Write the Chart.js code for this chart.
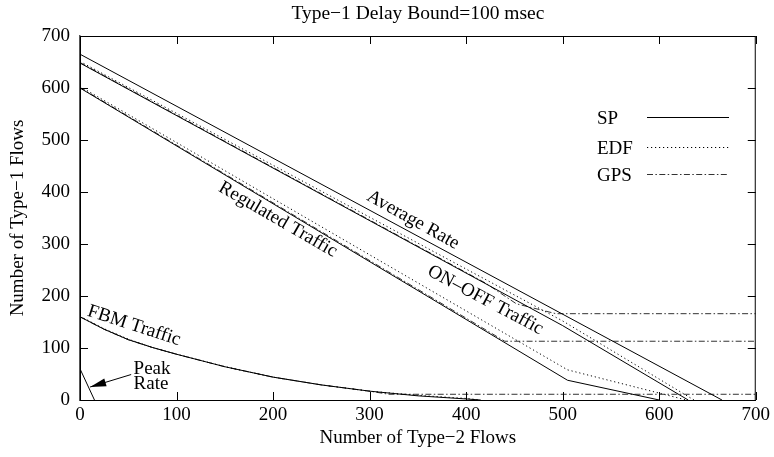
<!DOCTYPE html>
<html>
<head>
<meta charset="utf-8">
<script src="https://cdn.jsdelivr.net/npm/chart.js@4.4.0/dist/chart.umd.min.js"></script>
<style>
  html, body { margin: 0; padding: 0; background: #fff; }
</style>
</head>
<body>
<canvas id="chart" width="774" height="457"></canvas>
<script>
// tick values
const xTicks = [0, 100, 200, 300, 400, 500, 600, 700];
const yTicks = [0, 100, 200, 300, 400, 500, 600, 700];

// Average rate (same for all schedulers)
const avgX = [0, 665];
const avgY = [665, 0];

// Peak rate
const peakX = [0, 15];
const peakY = [60, 0];

// ON-OFF traffic
const onoffSpX = [0, 500, 630];
const onoffSpY = [648, 143, 0];
const onoffEdfX = [0, 500, 636];
const onoffEdfY = [651, 152, 0];
const onoffGpsX = [0, 420, 452, 493, 700];
const onoffGpsY = [649, 225, 185, 166, 166];

// Regulated traffic
const regSpX = [0, 505, 600];
const regSpY = [600, 38, 0];
const regEdfX = [0, 505, 628];
const regEdfY = [603, 58, 0];
const regGpsX = [0, 440, 700];
const regGpsY = [601, 113, 113];

// FBM traffic
const fbmX = [0, 25, 50, 75, 100, 150, 200, 250, 300, 350, 400, 415];
const fbmSpY = [160, 136, 116, 101, 88, 64, 44, 29, 17, 8, 2, 0];
const fbmEdfY = [161, 137, 117, 101, 88, 64, 44, 29, 17, 9, 3, 0];
const fbmGpsX = [0, 25, 50, 75, 100, 150, 200, 250, 300, 320, 700];
const fbmGpsY = [160, 136, 116, 101, 88, 64, 44, 29, 17, 11, 11];

const FONT = '"Liberation Serif", "Times New Roman", serif';
const TITLE = 'Type\u22121 Delay Bound=100 msec';

const styles = {
  SP:  { color: '#000', dash: [] },
  EDF: { color: '#000', dash: [1.2, 2.8] },
  GPS: { color: '#333', dash: [6, 2.4, 1.5, 2.4] }
};

const pts = (xs, ys) => xs.map((x, i) => ({ x, y: ys[i] }));

function series(label, kind, xs, ys) {
  const s = styles[kind];
  return {
    label, data: pts(xs, ys), showLine: true, pointRadius: 0,
    borderColor: s.color, borderDash: s.dash, borderWidth: 1,
    fill: false, tension: 0
  };
}

const datasets = [
  series('Average Rate', 'SP', avgX, avgY),
  series('Peak Rate', 'SP', peakX, peakY),
  series('ON-OFF SP', 'SP', onoffSpX, onoffSpY),
  series('ON-OFF EDF', 'EDF', onoffEdfX, onoffEdfY),
  series('ON-OFF GPS', 'GPS', onoffGpsX, onoffGpsY),
  series('Regulated SP', 'SP', regSpX, regSpY),
  series('Regulated EDF', 'EDF', regEdfX, regEdfY),
  series('Regulated GPS', 'GPS', regGpsX, regGpsY),
  series('FBM SP', 'SP', fbmX, fbmSpY),
  series('FBM EDF', 'EDF', fbmX, fbmEdfY),
  series('FBM GPS', 'GPS', fbmGpsX, fbmGpsY)
];

// curve labels, placed in data units
const notes = [
  { text: 'Average Rate', x: 345, y: 346, angle: 29 },
  { text: 'Regulated Traffic', x: 205, y: 347, angle: 30 },
  { text: 'ON\u2013OFF Traffic', x: 420, y: 192, angle: 28 },
  { text: 'FBM Traffic', x: 56, y: 143, angle: 18 }
];

const legendRows = [
  { label: 'SP', kind: 'SP', y: 117 },
  { label: 'EDF', kind: 'EDF', y: 147 },
  { label: 'GPS', kind: 'GPS', y: 174 }
];

const decorPlugin = {
  id: 'decor',
  afterDatasetsDraw(chart) {
    const { ctx, chartArea: a, scales: { x, y } } = chart;
    ctx.save();
    // frame and inward ticks on all sides
    ctx.strokeStyle = '#000';
    ctx.lineWidth = 1;
    ctx.setLineDash([]);
    ctx.strokeRect(a.left + 0.5, a.top + 0.5, a.right - a.left - 1, a.bottom - a.top);
    ctx.beginPath();
    xTicks.forEach(v => {
      const px = Math.round(x.getPixelForValue(v)) + 0.5;
      ctx.moveTo(px, a.bottom); ctx.lineTo(px, a.bottom - 8);
      ctx.moveTo(px, a.top); ctx.lineTo(px, a.top + 8);
    });
    yTicks.forEach(v => {
      const py = Math.round(y.getPixelForValue(v)) + 0.5;
      ctx.moveTo(a.left, py); ctx.lineTo(a.left + 8, py);
      ctx.moveTo(a.right, py); ctx.lineTo(a.right - 8, py);
    });
    ctx.stroke();

    ctx.fillStyle = '#000';
    ctx.textBaseline = 'middle';

    // title, centred over the plot area
    ctx.font = '19.5px ' + FONT;
    ctx.textAlign = 'center';
    ctx.fillText(TITLE, (a.left + a.right) / 2, 14);

    // rotated curve labels
    ctx.font = '19px ' + FONT;
    notes.forEach(n => {
      ctx.save();
      ctx.translate(x.getPixelForValue(n.x), y.getPixelForValue(n.y));
      ctx.rotate(n.angle * Math.PI / 180);
      ctx.fillText(n.text, 0, 0);
      ctx.restore();
    });

    // Peak Rate label with arrow
    ctx.textAlign = 'left';
    ctx.fillText('Peak', x.getPixelForValue(55.5), y.getPixelForValue(60));
    ctx.fillText('Rate', x.getPixelForValue(55.5), y.getPixelForValue(30));
    const tx = x.getPixelForValue(53), ty = y.getPixelForValue(49);
    const hx = x.getPixelForValue(10.5), hy = y.getPixelForValue(25);
    const ang = Math.atan2(hy - ty, hx - tx);
    ctx.beginPath();
    ctx.moveTo(tx, ty); ctx.lineTo(hx, hy);
    ctx.stroke();
    ctx.beginPath();
    ctx.moveTo(hx, hy);
    ctx.lineTo(hx - 16 * Math.cos(ang) + 4 * Math.sin(ang), hy - 16 * Math.sin(ang) - 4 * Math.cos(ang));
    ctx.lineTo(hx - 16 * Math.cos(ang) - 4 * Math.sin(ang), hy - 16 * Math.sin(ang) + 4 * Math.cos(ang));
    ctx.closePath();
    ctx.fill();

    // legend
    legendRows.forEach(r => {
      const s = styles[r.kind];
      ctx.fillStyle = '#000';
      ctx.fillText(r.label, 597, r.y + 2);
      ctx.strokeStyle = s.color;
      ctx.setLineDash(s.dash);
      ctx.beginPath();
      ctx.moveTo(647, r.y + 0.5); ctx.lineTo(729, r.y + 0.5);
      ctx.stroke();
    });
    ctx.restore();
  }
};

new Chart(document.getElementById('chart'), {
  type: 'scatter',
  data: { datasets },
  options: {
    responsive: false,
    devicePixelRatio: 1,
    animation: false,
    layout: { padding: { left: 0, right: 17, top: 36, bottom: 0 } },
    plugins: {
      legend: { display: false },
      tooltip: { enabled: false },
      title: { display: false }
    },
    scales: {
      x: {
        type: 'linear', min: 0, max: 700,
        afterBuildTicks: s => { s.ticks = xTicks.map(v => ({ value: v })); },
        ticks: { color: '#000', font: { family: FONT, size: 19 }, padding: 4, maxRotation: 0 },
        grid: { display: false, drawTicks: false },
        border: { display: true, color: '#000', width: 1 },
        title: {
          display: true, text: 'Number of Type\u22122 Flows', color: '#000',
          font: { family: FONT, size: 19 }, padding: { top: 0, bottom: 8 }
        },
        afterFit: s => { s.height = 57; }
      },
      y: {
        type: 'linear', min: 0, max: 700,
        afterBuildTicks: s => { s.ticks = yTicks.map(v => ({ value: v })); },
        ticks: { color: '#000', font: { family: FONT, size: 19 }, padding: 10 },
        grid: { display: false, drawTicks: false },
        border: { display: true, color: '#555', width: 1.5 },
        title: {
          display: true, text: 'Number of Type\u22121 Flows', color: '#000',
          font: { family: FONT, size: 19 }, padding: { top: 7, bottom: 0 }
        },
        afterFit: s => { s.width = 80; }
      }
    }
  },
  plugins: [decorPlugin]
});
</script>
</body>
</html>
